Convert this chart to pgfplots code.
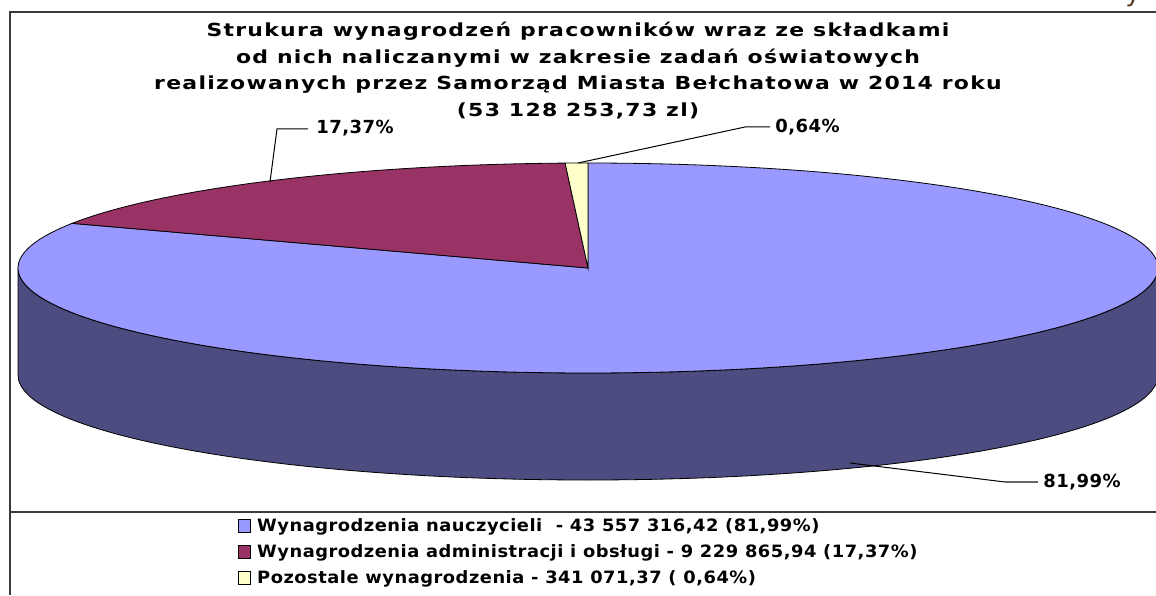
\documentclass[border=0pt]{standalone}
\usepackage{pgfplots}
\pgfplotsset{compat=1.18}
\usepackage{pgfplotstable}
\usepackage{fontspec}
\setmainfont{DejaVu Sans}
\newfontfamily\titlefont[FakeStretch=1.22, LetterSpace=7]{DejaVu Sans}
\newfontfamily\legfont[FakeStretch=1.05, LetterSpace=3]{DejaVu Sans}
\newfontfamily\labfont[LetterSpace=2.5]{DejaVu Sans}
\definecolor{pieblue}{HTML}{9999FF}
\definecolor{pieside}{HTML}{4C4C80}
\definecolor{piemaroon}{HTML}{993366}
\definecolor{pieyellow}{HTML}{FFFFCC}
\definecolor{framegray}{HTML}{3A3A3A}
\definecolor{artbrown}{HTML}{5A3A22}
\pgfplotstableread{
p value
81.99 43557316.42
17.37 9229865.94
0.64 341071.37
}\piedata
\begin{document}
\begin{tikzpicture}
\pgfplotstablegetelem{0}{p}\of\piedata \let\pA\pgfplotsretval
\pgfplotstablegetelem{1}{p}\of\piedata \let\pB\pgfplotsretval
\pgfplotstablegetelem{2}{p}\of\piedata \let\pC\pgfplotsretval
\pgfmathsetmacro\aA{90-3.6*\pA}
\pgfmathsetmacro\aB{\aA-3.6*\pB}
\pgfmathsetmacro\aC{\aB-3.6*\pC}
\begin{axis}[at={(0,0)}, anchor=south west,
  width=578pt, height=297.5pt, scale only axis,
  xmin=0, xmax=1156, ymin=0, ymax=595,
  hide axis, clip=false, samples=160,
  area legend,
  legend image code/.code={\draw[#1, draw=black, line width=0.4pt] (0pt,-3pt) rectangle (6pt,3.5pt);},
  legend style={at={(axis cs:232,84)}, anchor=north west, draw=none, fill=none,
    font=\legfont\bfseries\fontsize{8.5}{10}\selectfont, row sep=2.1pt,
    nodes={inner sep=1.5pt}},
  legend cell align=left]
% side of the pie
\fill[pieside, draw=black, line width=0.4pt] (axis cs:18,327)
  arc[start angle=180, end angle=360, x radius=285pt, y radius=52.5pt]
  -- ++(0pt,-53.5pt)
  arc[start angle=360, end angle=180, x radius=285pt, y radius=52.5pt] -- cycle;
% top slices
\addplot[fill=pieblue, draw=black, line width=0.4pt, domain=\aA:90]
  ({588+570*cos(x)},{327+105*sin(x)}) -- (axis cs:588,327) -- cycle;
\addlegendentry{\hspace{1.5pt}Wynagrodzenia nauczycieli\ \ - 43 557 316,42 (81,99\%)}
\addplot[fill=piemaroon, draw=black, line width=0.4pt, domain=\aB:\aA]
  ({588+570*cos(x)},{327+105*sin(x)}) -- (axis cs:588,327) -- cycle;
\addlegendentry{\hspace{1.5pt}Wynagrodzenia administracji i obsługi - 9 229 865,94 (17,37\%)}
\addplot[fill=pieyellow, draw=black, line width=0.4pt, domain=\aC:\aB, samples=10]
  ({588+570*cos(x)},{327+105*sin(x)}) -- (axis cs:588,327) -- cycle;
\addlegendentry{\hspace{1.5pt}Pozostale wynagrodzenia - 341 071,37 ( 0,64\%)}
% leader lines and labels
\draw[black, line width=0.5pt] (axis cs:270,413) -- (axis cs:277,466) -- (axis cs:308,466);
\node[anchor=west, font=\labfont\bfseries\fontsize{9}{10}\selectfont, inner sep=0pt] at (axis cs:316,467) {17,37\%};
\draw[black, line width=0.5pt] (axis cs:578,432) -- (axis cs:745,468) -- (axis cs:770,468);
\node[anchor=west, font=\labfont\bfseries\fontsize{9}{10}\selectfont, inner sep=0pt] at (axis cs:775,468) {0,64\%};
\draw[black, line width=0.5pt] (axis cs:850,132) -- (axis cs:1005,113);
\draw[black!60, line width=0.8pt] (axis cs:1005,113) -- (axis cs:1038,113);
\node[anchor=west, font=\labfont\bfseries\fontsize{9}{10}\selectfont, inner sep=0pt] at (axis cs:1043,113) {81,99\%};
% title
\node[align=center, font=\titlefont\bfseries\fontsize{9}{13.25}\selectfont, anchor=north, inner sep=0pt] at (axis cs:578,573)
  {Strukura wynagrodzeń pracowników wraz ze składkami\\
   od nich naliczanymi w zakresie zadań oświatowych\\
   realizowanych przez Samorząd Miasta Bełchatowa w 2014 roku\\
   (53 128 253,73 zl)};
% frame
\draw[framegray, line width=1.1pt] (axis cs:1156,583) -- (axis cs:10,583) -- (axis cs:10,0);
\draw[framegray, line width=0.8pt] (axis cs:10,83) -- (axis cs:1156,83);
\node[anchor=base, text=artbrown, font=\fontsize{13}{14}\selectfont, inner sep=0pt] at (axis cs:1133,593) {y};
\end{axis}
\pgfresetboundingbox
\path (0,0) rectangle (578pt,297.5pt);
\end{tikzpicture}
\end{document}
